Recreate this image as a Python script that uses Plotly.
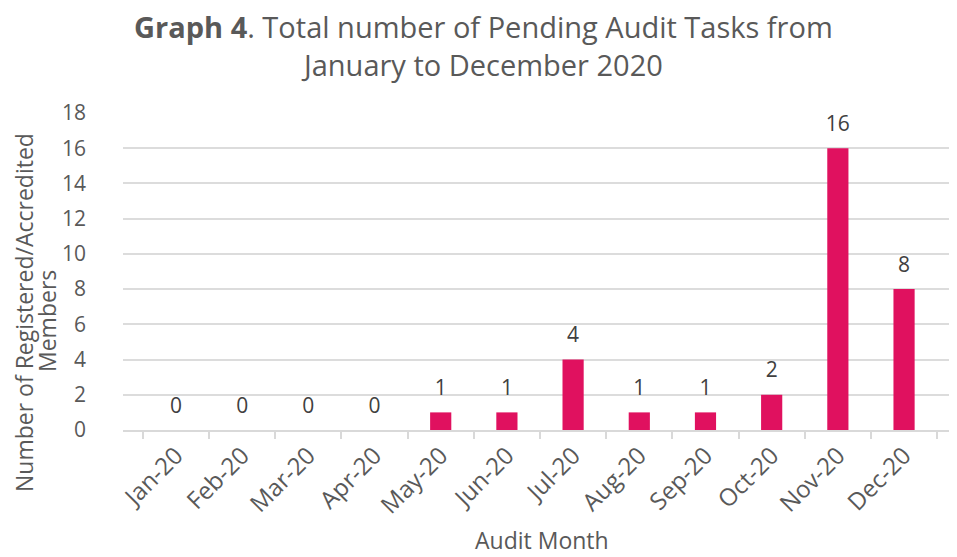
import plotly.graph_objects as go

months = ["Jan-20", "Feb-20", "Mar-20", "Apr-20", "May-20", "Jun-20",
          "Jul-20", "Aug-20", "Sep-20", "Oct-20", "Nov-20", "Dec-20"]
pending = [0, 0, 0, 0, 1, 1, 4, 1, 1, 2, 16, 8]
y_ticks = [0, 2, 4, 6, 8, 10, 12, 14, 16, 18]

FONT = "Open Sans"
TXT = "#595959"
OFF = 8  # page body margin
W, H = 957 - OFF, 557 - OFF
ML, MR, MT, MB = 123 - OFF, 0, 113 - OFF, 127
PW, PH = W - ML - MR, H - MT - MB

def px_x(px):
    return (px - OFF - ML) / PW

def px_y(py):
    return (H - MB - (py - OFF)) / PH

fig = go.Figure()
fig.add_trace(go.Bar(
    x=months, y=pending,
    marker=dict(color="#E0115F", line=dict(width=0)),
    width=0.32, hoverinfo="x+y", showlegend=False,
))
fig.add_trace(go.Scatter(
    x=months, y=pending, mode="markers+text", text=[str(v) for v in pending],
    textposition="top center",
    marker=dict(size=18, opacity=0),
    textfont=dict(family=FONT, size=21, color="#404040"),
    showlegend=False, hoverinfo="skip", cliponaxis=False,
))

fig.update_layout(
    width=W, height=H,
    paper_bgcolor="white", plot_bgcolor="white",
    margin=dict(l=ML, r=MR, t=MT, b=MB, pad=0),
    font=dict(family=FONT, color=TXT),
    xaxis=dict(
        type="category", tickangle=-45, tickson="boundaries",
        ticks="outside", ticklen=7, tickcolor="#d9d9d9", tickwidth=2,
        showline=True, linecolor="#d9d9d9", linewidth=2,
        showgrid=False, automargin=False,
        tickfont=dict(family=FONT, size=24, color=TXT),
    ),
    yaxis=dict(
        range=[0, 18], tickvals=y_ticks, showgrid=True, gridcolor="#dcdcdc",
        gridwidth=2, zeroline=False, showline=False, automargin=False,
        tickfont=dict(family=FONT, size=21, color=TXT), ticks="", ticklabelstandoff=36,
    ),
    annotations=[
        dict(text="<b>Graph 4</b>. Total number of Pending Audit Tasks from<br>January to December 2020",
             xref="paper", yref="paper", x=px_x(483), y=px_y(45),
             xanchor="center", yanchor="middle", showarrow=False,
             font=dict(family=FONT, size=29, color=TXT)),
        dict(text="Audit Month", xref="paper", yref="paper",
             x=px_x(542), y=px_y(540), xanchor="center", yanchor="middle",
             showarrow=False, font=dict(family=FONT, size=23, color=TXT)),
        dict(text="Number of Registered/Accredited", xref="paper", yref="paper",
             x=px_x(24), y=px_y(313), xanchor="center", yanchor="middle", textangle=-90,
             showarrow=False, font=dict(family=FONT, size=23, color=TXT)),
        dict(text="Members", xref="paper", yref="paper",
             x=px_x(47), y=px_y(321), xanchor="center", yanchor="middle", textangle=-90,
             showarrow=False, font=dict(family=FONT, size=23, color=TXT)),
    ],
)

fig.write_html("out.html")
